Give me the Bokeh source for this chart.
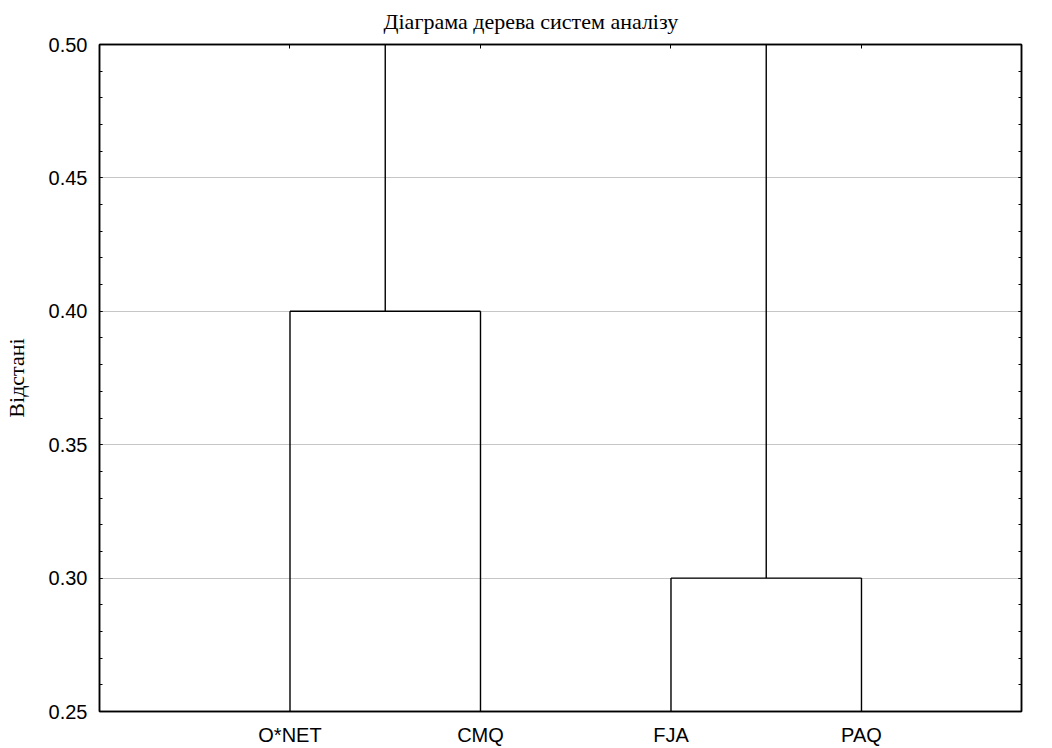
from bokeh.plotting import figure
from bokeh.models import (Range1d, LinearAxis, FixedTicker, NumeralTickFormatter, ColumnDataSource,
                          CustomJSTickFormatter)
from bokeh.embed import file_html
from bokeh.resources import INLINE

# ---- data ----
title_text = "Діаграма дерева систем аналізу"
y_label = "Відстані"
leaves = ["O*NET", "CMQ", "FJA", "PAQ"]
# linkage: (left child, right child, height, new cluster name)
merge_left = ["O*NET", "FJA", "C1"]
merge_right = ["CMQ", "PAQ", "C2"]
merge_height = [0.40, 0.30, 0.56]
merge_name = ["C1", "C2", "ROOT"]
y_ticks = [0.25, 0.30, 0.35, 0.40, 0.45, 0.50]
y_min, y_max = 0.25, 0.50

# ---- build dendrogram segments from linkage ----
pos = {name: i + 1 for i, name in enumerate(leaves)}
hgt = {name: y_min for name in leaves}
x0s, y0s, x1s, y1s = [], [], [], []
for a, b, h, n in zip(merge_left, merge_right, merge_height, merge_name):
    xa, xb = pos[a], pos[b]
    x0s += [xa, xb, xa]
    y0s += [hgt[a], hgt[b], h]
    x1s += [xa, xb, xb]
    y1s += [h, h, h]
    pos[n] = (xa + xb) / 2
    hgt[n] = h

src = ColumnDataSource(dict(x0=x0s, y0=y0s, x1=x1s, y1=y1s))

W, H = 1052, 748
BL, BR, BT, BB = 98, 31, 44, 35
p = figure(width=W, height=H, output_backend="svg", toolbar_location=None,
           x_range=Range1d(0, 4.84), y_range=Range1d(y_min, y_max),
           min_border_left=BL, min_border_right=BR, min_border_top=BT, min_border_bottom=BB,
           title=title_text)
p.title.text_font = "Liberation Serif"
p.title.text_font_size = "22px"
p.title.text_font_style = "normal"
p.title.align = "left"
p.title.offset = 284
p.title.standoff = 17
p.title.vertical_align = "top"
p.title.text_color = "black"

p.segment("x0", "y0", "x1", "y1", source=src, line_color="black", line_width=1.4)

minor = [round(y_min + 0.01 * i, 2) for i in range(26)]
yt = FixedTicker(ticks=y_ticks, minor_ticks=minor)
xt = FixedTicker(ticks=[1, 2, 3, 4], minor_ticks=[])
blank = CustomJSTickFormatter(code="return '';")

# left axis
ly = p.yaxis[0]
ly.ticker = yt
ly.formatter = NumeralTickFormatter(format="0.00")
ly.major_tick_in = 3
ly.major_tick_out = 0
ly.minor_tick_in = 3
ly.minor_tick_out = 0
ly.axis_line_width = 1.5
ly.axis_line_color = "black"
ly.major_tick_line_color = "black"
ly.minor_tick_line_color = "black"
ly.major_label_text_font = "Liberation Sans"
ly.major_label_text_font_size = "20px"
ly.major_label_text_color = "black"
ly.major_label_standoff = 12
ly.axis_label = y_label
ly.axis_label_text_font = "Liberation Serif"
ly.axis_label_text_font_size = "22px"
ly.axis_label_text_font_style = "normal"
ly.axis_label_text_color = "black"
ly.axis_label_standoff = 17

# bottom axis
bx = p.xaxis[0]
bx.ticker = xt
bx.major_label_overrides = {i + 1: name for i, name in enumerate(leaves)}
bx.major_tick_in = 0
bx.major_tick_out = 0
bx.minor_tick_in = 0
bx.minor_tick_out = 0
bx.axis_line_width = 1.5
bx.axis_line_color = "black"
bx.major_label_text_font = "Liberation Sans"
bx.major_label_text_font_size = "20px"
bx.major_label_text_color = "black"
bx.major_label_standoff = 12

# right axis
ry = LinearAxis(ticker=yt, formatter=blank, major_tick_in=3, major_tick_out=0,
                minor_tick_in=3, minor_tick_out=0, axis_line_width=1.5, major_label_standoff=0,
                axis_line_color="black", major_tick_line_color="black", minor_tick_line_color="black")
p.add_layout(ry, "right")
# top axis
tx = LinearAxis(ticker=xt, formatter=blank, major_tick_in=4, major_tick_out=0,
                minor_tick_in=0, minor_tick_out=0, axis_line_width=1.5, major_label_standoff=0,
                axis_line_color="black", major_tick_line_color="black")
p.add_layout(tx, "above")

p.xgrid.visible = False
p.ygrid.ticker = FixedTicker(ticks=[0.30, 0.35, 0.40, 0.45])
p.ygrid.grid_line_color = "#8c8c8c"
p.ygrid.grid_line_dash = "1 1"
p.ygrid.grid_line_width = 1
p.outline_line_color = "black"
p.outline_line_width = 1.5

open("out.html", "w").write(file_html(p, INLINE))
